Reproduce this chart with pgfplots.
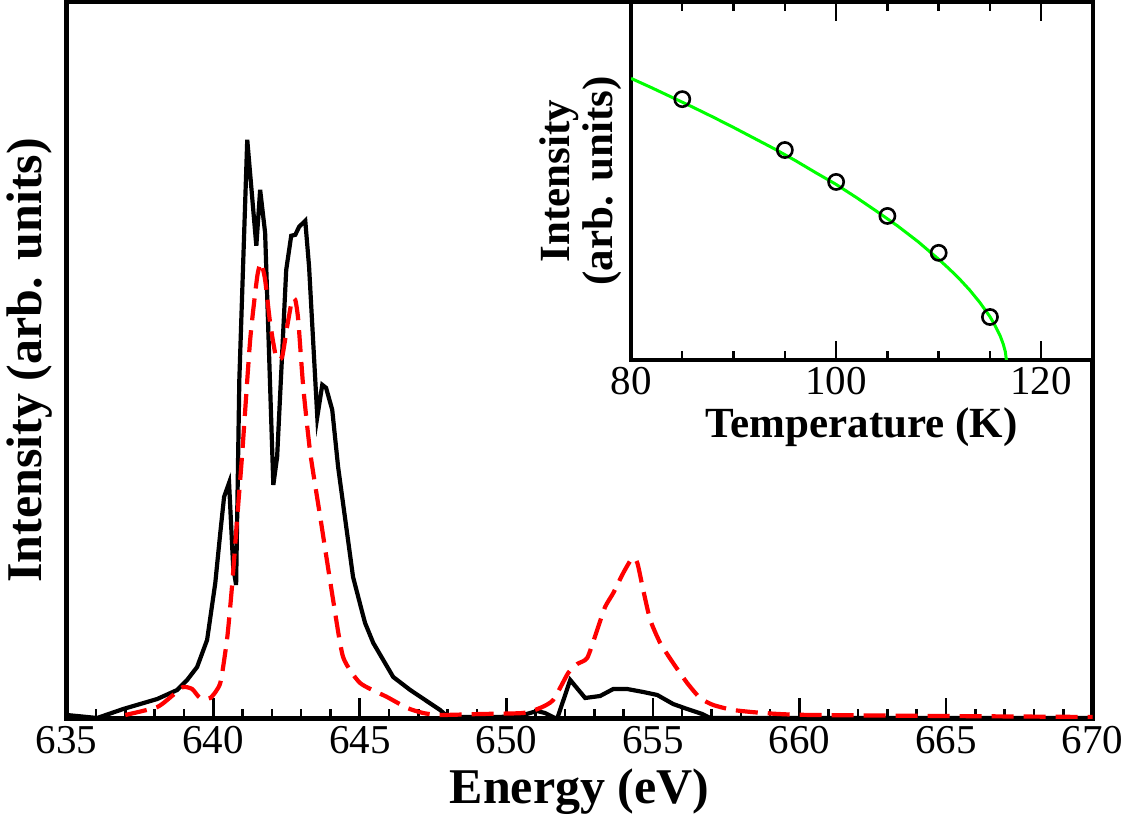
\documentclass[border=0pt]{standalone}
\usepackage{fontspec}
\setmainfont{Liberation Serif}
\newfontfamily\tickfont{Liberation Serif}
\usepackage{pgfplots}
\pgfplotsset{compat=1.18}

\begin{document}
\begin{tikzpicture}
% main spectrum, 1px = 0.5pt
\begin{axis}[
  name=main,
  scale only axis,
  width=512.9pt, height=358.65pt,
  xmin=635, xmax=670, ymin=0, ymax=717,
  xtick={635,640,...,670}, minor x tick num=4,
  xticklabels={635,640,645,650,655,660,665,670},
  ytick=\empty,
  xtick pos=left, tick align=inside,
  major tick length=10.5pt, minor tick length=5pt,
  every tick/.style={line width=1.3pt, black},
  axis line style={line width=2.5pt},
  tick label style={font=\tickfont\fontsize{20.5}{24}\selectfont},
  xlabel={Energy (eV)},
  ylabel={Intensity (arb. units)},
  label style={font=\rmfamily\fontsize{25}{30}\selectfont\bfseries},
  xlabel style={at={([yshift=-42pt]axis description cs:0.5,0)}, anchor=base},
  ylabel style={at={([xshift=-7pt]axis description cs:0,0.5)}, anchor=south, inner sep=0pt},
]
\addplot[black, line width=2.1pt] coordinates {
  (635.00,4) (636.04,1) (636.93,10) (638.09,20) (638.77,29) (639.11,39)
  (639.45,52) (639.79,79) (640.07,136) (640.24,186) (640.37,222) (640.54,236)
  (640.68,152) (640.78,134) (640.89,339) (641.16,579) (641.47,473) (641.60,529)
  (641.77,486) (642.05,234) (642.18,262) (642.49,449) (642.66,483) (642.80,484)
  (642.93,492) (643.14,498) (643.27,452) (643.55,302) (643.72,334) (643.85,331)
  (644.06,309) (644.26,252) (644.77,142) (645.08,107) (645.18,96) (645.46,76)
  (646.14,42) (646.72,29) (647.74,9) (648.01,2) (649.79,2) (650.57,4)
  (651.05,8) (651.32,6) (651.73,0) (652.18,39) (652.69,21) (653.20,23)
  (653.65,30) (654.12,30) (654.67,27) (655.15,24) (655.69,15) (656.17,10)
  (656.68,5) (656.96,1) (670.00,1)
};
\addplot[red, line width=2.1pt, dash pattern=on 11pt off 5pt, smooth, tension=0.35] coordinates {
  (637.00,4) (638.09,12) (638.63,24) (638.97,32) (639.28,30) (639.55,21)
  (639.90,21) (640.24,36) (640.48,82) (640.65,136) (640.82,202) (640.99,266)
  (641.26,379) (641.50,442) (641.63,456) (641.77,439) (641.94,396) (642.15,361)
  (642.35,362) (642.52,392) (642.69,419) (642.80,419) (642.90,399) (643.07,332)
  (643.31,266) (643.65,202) (644.09,119) (644.43,62) (645.01,36) (645.93,22)
  (646.62,11) (647.16,6) (647.74,4) (649.11,5) (650.57,6) (651.15,11)
  (651.60,19) (652.11,46) (652.42,55) (652.76,61) (653.10,89) (653.37,112)
  (653.65,126) (653.99,146) (654.30,161) (654.47,156) (654.67,129) (654.91,99)
  (655.25,76) (655.69,56) (656.17,36) (656.61,21) (657.06,14) (657.74,9)
  (658.77,6) (660.47,4) (670.00,2)
};
\end{axis}

% inset: intensity vs temperature
\begin{axis}[
  at={(main.north east)}, anchor=north east,
  scale only axis,
  width=230.75pt, height=179.15pt,
  xmin=80, xmax=125, ymin=0, ymax=1,
  xtick={80,100,120}, minor x tick num=3,
  xticklabels={80,100,120},
  ytick=\empty,
  xtick pos=both, tick align=inside,
  major tick length=9.5pt, minor tick length=4.5pt,
  every tick/.style={line width=1.2pt, black},
  axis line style={line width=2pt},
  axis background/.style={fill=white},
  tick label style={font=\tickfont\fontsize{20.5}{24}\selectfont},
  xlabel={Temperature (K)},
  ylabel={Intensity\\(arb. units)},
  label style={font=\rmfamily\fontsize{21.5}{21.5}\selectfont\bfseries},
  xlabel style={at={([yshift=-39pt]axis description cs:0.5,0)}, anchor=base},
  ylabel style={at={([xshift=-4.5pt]axis description cs:0,0.5)}, anchor=south, inner sep=0pt, align=center},
]
\addplot[green, line width=1.5pt] coordinates {
  (80,0.786) (82,0.760) (84,0.733) (86,0.706) (88,0.678) (90,0.649)
  (92,0.619) (94,0.589) (96,0.557) (98,0.523) (100,0.490) (102,0.453)
  (104,0.414) (106,0.374) (108,0.330) (110,0.281) (111,0.255) (112,0.227)
  (113,0.196) (114,0.161) (115,0.121) (115.5,0.096) (116,0.067) (116.3,0.044)
  (116.5,0.023) (116.6,0.0)
};
\addplot[only marks, mark=o, mark size=3.8pt, mark options={line width=1.3pt, black}] coordinates {
  (85,0.728) (95,0.586) (100,0.497) (105,0.402) (110,0.299) (115,0.120)
};
\end{axis}

\pgfresetboundingbox
\path[use as bounding box] (main.south west) ++(-33.35pt,-49.5pt) rectangle ++(567pt,409pt);
\end{tikzpicture}
\end{document}
